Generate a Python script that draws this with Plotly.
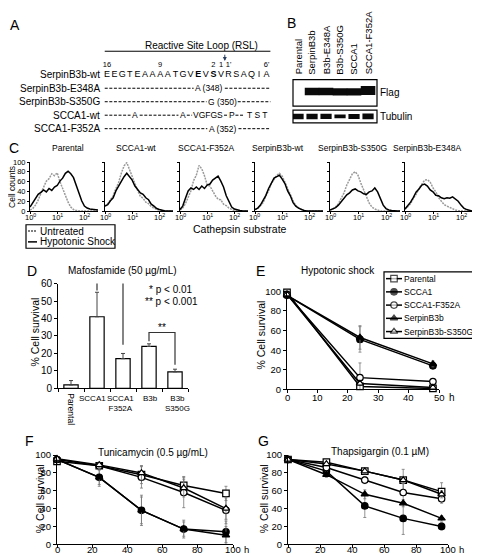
import plotly.graph_objects as go

W, H = 480, 554
FONT = "Liberation Sans, Arial, Helvetica, sans-serif"

# ---------------- data ----------------
# Panel A
RSL_RESIDUES = ["E", "E", "G", "T", "E", "A", "A", "A", "A", "T", "G",
                "V", "E", "V", "S", "V", "R", "S", "A", "Q", "I", "A"]
RSL_BOLD_RESIDUES = [12, 14]
RSL_NUMBER_LABELS = ["16", "9", "2", "1", "1'", "6'"]
RSL_NUMBER_RESIDUES = [0, 7, 14, 15, 16, 21]
RSL_CLEAVAGE = 15.5
VARIANT_LABELS = ["SerpinB3b-wt", "SerpinB3b-E348A", "SerpinB3b-S350G",
                  "SCCA1-wt", "SCCA1-F352A"]

# Panel B
LANES = ["Parental", "SerpinB3b", "B3b-E348A", "B3b-S350G", "SCCA1", "SCCA1-F352A"]
FLAG_SIGNAL = [0.0, 1.0, 1.0, 0.95, 0.95, 1.2]
TUBULIN_SIGNAL = [1.0, 1.0, 0.95, 0.7, 0.9, 1.05]

# Panel C (flow histograms, x = log10 fluorescence)
HIST_LOG10 = [0.0, 0.1, 0.2, 0.3, 0.4, 0.5, 0.6, 0.7, 0.8, 0.9, 1.0, 1.1, 1.2,
              1.3, 1.4, 1.5, 1.6, 1.7, 1.8, 1.9, 2.0, 2.1, 2.2, 2.3, 2.4, 2.5]
HIST_TICKS = [0, 1, 2]
HIST_TICK_TEXT = ["10<sup>0</sup>", "10<sup>1</sup>", "10<sup>2</sup>"]
HIST_TITLES = ["Parental", "SCCA1-wt", "SCCA1-F352A", "SerpinB3b-wt",
               "SerpinB3b-S350G", "SerpinB3b-E348A"]
HIST_UNTREATED = [
    [2, 5, 12, 22, 36, 47, 61, 66, 76, 72, 78, 60, 46, 29, 18, 8, 3, 1, 0, 0, 0, 0, 0, 0, 0, 0],
    [10, 15, 23, 31, 46, 58, 77, 92, 99, 84, 72, 53, 42, 30, 26, 18, 15, 9, 6, 3, 2, 1, 0, 0, 0, 0],
    [2, 6, 15, 29, 41, 62, 73, 93, 86, 72, 53, 51, 40, 31, 24, 23, 14, 11, 6, 3, 1, 0, 0, 0, 0, 0],
    [3, 5, 11, 17, 31, 41, 56, 64, 73, 77, 71, 59, 46, 31, 21, 11, 7, 3, 1, 0, 0, 0, 0, 0, 0, 0],
    [2, 4, 8, 15, 26, 37, 53, 64, 76, 80, 73, 57, 43, 27, 16, 8, 4, 2, 0, 0, 0, 0, 0, 0, 0, 0],
    [3, 8, 15, 26, 34, 46, 54, 63, 64, 59, 47, 39, 27, 21, 13, 10, 7, 4, 2, 1, 0, 0, 0, 0, 0, 0],
]
HIST_HYPOTONIC = [
    [8, 16, 26, 34, 38, 43, 39, 46, 42, 49, 52, 61, 67, 77, 81, 76, 68, 51, 35, 21, 10, 6, 4, 3, 2, 2],
    [10, 13, 21, 27, 41, 51, 63, 70, 77, 71, 63, 51, 43, 37, 34, 27, 23, 14, 10, 5, 3, 1, 0, 0, 0, 0],
    [3, 10, 26, 41, 47, 44, 49, 44, 51, 46, 53, 55, 63, 67, 71, 61, 49, 31, 18, 8, 4, 2, 1, 0, 0, 0],
    [3, 6, 12, 21, 32, 46, 57, 67, 70, 73, 65, 56, 41, 31, 17, 10, 6, 3, 1, 0, 0, 0, 0, 0, 0, 0],
    [2, 4, 7, 12, 19, 25, 33, 37, 43, 45, 41, 39, 35, 34, 39, 41, 47, 39, 25, 12, 5, 2, 1, 0, 0, 0],
    [4, 10, 18, 28, 39, 45, 53, 55, 51, 43, 39, 32, 31, 27, 25, 27, 26, 29, 25, 20, 12, 6, 3, 1, 0, 0],
]

# Panel D
D_CATEGORIES = ["Parental", "SCCA1", "SCCA1 F352A", "B3b", "B3b S350G"]
D_TICK_TEXT = ["Parental", "SCCA1", "SCCA1<br>F352A", "B3b", "B3b<br>S350G"]
D_SURVIVAL = [2.0, 41.0, 17.0, 24.0, 9.5]
D_ERROR = [2.5, 14.0, 3.0, 1.5, 1.5]

# Series shared by E, F, G
SERIES = ["Parental", "SCCA1", "SCCA1-F352A", "SerpinB3b", "SerpinB3b-S350G"]

E_HOURS = [0, 24, 48]
E_PARENTAL = [99, 3, 1]
E_SCCA1 = [96, 51, 24]
E_F352A = [97, 12, 8]
E_SERPINB3B = [96, 53, 26]
E_S350G = [97, 6, 2]
E_PARENTAL_ERR = [1, 1, 1]
E_SCCA1_ERR = [1, 13, 2]
E_F352A_ERR = [1, 15, 1]
E_SERPINB3B_ERR = [1, 12, 3]
E_S350G_ERR = [1, 2, 1]

F_HOURS = [0, 24, 48, 72, 96]
F_PARENTAL = [93, 88, 78, 66, 57]
F_SCCA1 = [95, 75, 38, 17, 14]
F_F352A = [95, 88, 75, 58, 38]
F_SERPINB3B = [95, 75, 38, 17, 10]
F_S350G = [96, 89, 80, 63, 40]
F_PARENTAL_ERR = [2, 3, 10, 10, 8]
F_SCCA1_ERR = [2, 8, 17, 10, 12]
F_F352A_ERR = [2, 3, 12, 17, 15]
F_SERPINB3B_ERR = [2, 10, 15, 8, 10]
F_S350G_ERR = [2, 3, 8, 10, 12]

G_HOURS = [0, 24, 48, 72, 96]
G_PARENTAL = [95, 92, 82, 72, 59]
G_SCCA1 = [95, 82, 43, 29, 20]
G_F352A = [95, 86, 72, 58, 51]
G_SERPINB3B = [95, 78, 56, 46, 29]
G_S350G = [95, 90, 82, 72, 56]
G_PARENTAL_ERR = [2, 2, 3, 12, 10]
G_SCCA1_ERR = [2, 3, 13, 18, 4]
G_F352A_ERR = [2, 3, 4, 10, 5]
G_SERPINB3B_ERR = [2, 3, 5, 4, 3]
G_S350G_ERR = [2, 2, 3, 4, 4]

TIME_TICKS_E = [0, 10, 20, 30, 40, 50]
TIME_TICKS_FG = [0, 20, 40, 60, 80, 100]
SURVIVAL_TICKS = [0, 20, 40, 60, 80, 100]

# ---------------- styles / helpers ----------------
SERIES_SYMBOL = ["square", "circle", "circle", "triangle-up", "triangle-up"]
SERIES_FILL = ["white", "black", "white", "black", "white"]


def fx(px):
    return px / W


def fy(py):
    return 1 - py / H


def dx(a, b):
    return [a / W, b / W]


def dy(top, bottom):
    return [1 - bottom / H, 1 - top / H]


def axn(n, k):
    return f"{k}axis" if n == 1 else f"{k}axis{n}"


def rf(n, k):
    return k if n == 1 else f"{k}{n}"


layout = dict(
    width=W, height=H, autosize=False,
    margin=dict(l=0, r=0, t=0, b=0),
    paper_bgcolor="white", plot_bgcolor="rgba(0,0,0,0)",
    showlegend=False,
    font=dict(family=FONT, size=10, color="black"),
)
annotations = []
shapes = []
fig = go.Figure()

AX = dict(showline=True, linecolor="black", linewidth=1, ticks="outside",
          ticklen=3, tickwidth=1, tickcolor="black", showgrid=False,
          zeroline=False, tickfont=dict(size=10), fixedrange=True)
HIDDEN = dict(visible=False, fixedrange=True, showgrid=False, zeroline=False)


def set_axes(n, xdom, ydom, xkw, ykw):
    layout[axn(n, "x")] = dict(domain=xdom, anchor=rf(n, "y"), **xkw)
    layout[axn(n, "y")] = dict(domain=ydom, anchor=rf(n, "x"), **ykw)


def text(px, py, s, size=10, xanchor="center", yanchor="middle", angle=0, **kw):
    annotations.append(dict(x=fx(px), y=fy(py), xref="paper", yref="paper",
                            text=s, showarrow=False, xanchor=xanchor,
                            yanchor=yanchor, textangle=angle, borderpad=0,
                            font=dict(size=size, family=FONT, color="black"), **kw))


def xtick_labels(n, vals, labels, py, size):
    """Tick labels of axis n placed as annotations just under the axis."""
    for v, lab in zip(vals, labels):
        annotations.append(dict(x=v, y=fy(py), xref=rf(n, "x"), yref="paper",
                                text=lab, showarrow=False, yanchor="middle", borderpad=0,
                                font=dict(size=size, family=FONT, color="black")))


# panel letters
for letter, px, py in [("A", 7, 11), ("B", 283, 9), ("C", 6, 137), ("D", 24, 262),
                       ("E", 252, 262), ("F", 21, 436), ("G", 255, 436)]:
    text(px, py, letter, size=14)

# ---------------- Panel A (axis 13) ----------------
IDX0, STEP = 99.0, 7.6
ROW0, ROWSTEP = 62.0, 13.75
set_axes(13, dx(80, 280), dy(20, 125),
         dict(HIDDEN, range=[(80 - IDX0) / STEP, (280 - IDX0) / STEP]),
         dict(HIDDEN, range=[(125 - ROW0) / ROWSTEP, (20 - ROW0) / ROWSTEP]))


def row_y(py):
    return (py - ROW0) / ROWSTEP


seq_text = [f"<b>{r}</b>" if i in RSL_BOLD_RESIDUES else r for i, r in enumerate(RSL_RESIDUES)]
fig.add_trace(go.Scatter(x=list(range(len(RSL_RESIDUES))), y=[0] * len(RSL_RESIDUES),
                         mode="text", text=seq_text, textfont=dict(size=9, family=FONT),
                         xaxis="x13", yaxis="y13", cliponaxis=False, hoverinfo="skip"))
fig.add_trace(go.Scatter(x=RSL_NUMBER_RESIDUES, y=[row_y(52)] * len(RSL_NUMBER_RESIDUES),
                         mode="text", text=RSL_NUMBER_LABELS, textfont=dict(size=7.5, family=FONT),
                         xaxis="x13", yaxis="y13", cliponaxis=False, hoverinfo="skip"))
shapes.append(dict(type="line", xref="x13", yref="y13", x0=-0.3, x1=21.5,
                   y0=row_y(38), y1=row_y(38), line=dict(color="black", width=1)))
annotations.append(dict(x=(21.5 - 0.3) / 2 + 1.8, y=row_y(32), xref="x13", yref="y13",
                        text="Reactive Site Loop (RSL)", showarrow=False,
                        font=dict(size=10, family=FONT)))
annotations.append(dict(x=RSL_CLEAVAGE, y=row_y(48), xref="x13", yref="y13",
                        ax=RSL_CLEAVAGE, ay=row_y(40), axref="x13", ayref="y13",
                        showarrow=True, arrowhead=2, arrowsize=0.8, arrowwidth=1,
                        text=""))
for r, lab in enumerate(VARIANT_LABELS):
    annotations.append(dict(x=(94 - IDX0) / STEP, y=r, xref="x13", yref="y13", text=lab,
                            showarrow=False, xanchor="right",
                            font=dict(size=10, family=FONT)))

VARIANT_DASHES = {
    1: [(-0.3, 11.4), (15.5, 21.5)],
    2: [(-0.3, 13.1), (17.2, 21.5)],
    3: [(-0.3, 3.1), (4.3, 9.4), (10.5, 11.2), (15.4, 15.9), (16.9, 18.1)],
    4: [(-0.3, 13.2), (17.3, 21.5)],
}
VARIANT_TEXT = {
    1: [("A (348)", 13.4)],
    2: [("G (350)", 15.2)],
    3: [("A", 3.7), ("A", 9.95), ("VGFGS", 13.3), ("P", 16.4), ("T S T", 19.8)],
    4: [("A (352)", 15.3)],
}
for r, segs in VARIANT_DASHES.items():
    for a, b in segs:
        fig.add_trace(go.Scatter(x=[a, b], y=[r, r], mode="lines",
                                 line=dict(color="black", width=1, dash="3px,1.6px"),
                                 xaxis="x13", yaxis="y13", hoverinfo="skip"))
for r, items in VARIANT_TEXT.items():
    for s, xpos in items:
        annotations.append(dict(x=xpos, y=r, xref="x13", yref="y13", text=s,
                                showarrow=False, font=dict(size=8.5, family=FONT)))

# ---------------- Panel B (axes 1, 2) ----------------
BX = [-0.36, 5.64]
set_axes(1, dx(285, 369), dy(67, 94),
         dict(HIDDEN, range=BX),
         dict(HIDDEN, range=[0, 1]))
set_axes(2, dx(285, 369), dy(98, 111),
         dict(HIDDEN, range=BX),
         dict(HIDDEN, range=[0, 1]))
for n, top, bot in [(1, 67, 94), (2, 98, 111)]:
    shapes.append(dict(type="rect", xref="paper", yref="paper",
                       x0=fx(285), x1=fx(369), y0=fy(bot), y1=fy(top),
                       line=dict(color="black", width=1.2)))
for i, s in enumerate(FLAG_SIGNAL):
    if s > 0:
        fig.add_trace(go.Scatter(x=[i - 0.52, i + 0.52], y=[0.55 + 0.2 * (s - 1)] * 2,
                                 mode="lines", line=dict(color="#0a0a0a", width=7.5 * s),
                                 xaxis="x", yaxis="y", hoverinfo="skip"))
for i, s in enumerate(TUBULIN_SIGNAL):
    fig.add_trace(go.Scatter(x=[i - 0.4, i + 0.4], y=[0.5, 0.5],
                             mode="lines", line=dict(color="#0a0a0a", width=5.5 * s),
                             xaxis="x2", yaxis="y2", hoverinfo="skip"))
for i, lab in enumerate(LANES):
    annotations.append(dict(x=i, y=fy(64), xref="x", yref="paper", text=lab,
                            showarrow=False, textangle=-90, yanchor="bottom",
                            font=dict(size=9.5, family=FONT)))
text(371, 80, "Flag", size=10, xanchor="left")
text(371, 105, "Tubulin", size=10, xanchor="left")

# ---------------- Panel C (axes 3-8) ----------------
C_XDOMS = [(22, 90), (97, 165), (172, 240), (247, 315), (322, 392), (397, 467)]
C_TITLE_X = [60, 128, 198, 270, 344, 419]
hist_x = [10 ** v for v in HIST_LOG10]
for k in range(6):
    n = 3 + k
    set_axes(n, dx(*C_XDOMS[k]), dy(151, 201),
             dict(AX, type="log", range=[0, 2.5], tickvals=[10 ** t for t in HIST_TICKS],
                  showticklabels=False, ticklen=2),
             dict(AX, range=[0, 100], tickvals=[0, 20, 40, 60, 80, 100],
                  showticklabels=(k == 0), tickfont=dict(size=7.5), ticklen=2))
    xtick_labels(n, HIST_TICKS, HIST_TICK_TEXT, 207, 7.5)
    fig.add_trace(go.Scatter(x=hist_x, y=HIST_UNTREATED[k], mode="lines",
                             line=dict(color="#9a9a9a", width=1.5, dash="2px,1px"),
                             xaxis=rf(n, "x"), yaxis=rf(n, "y"), hoverinfo="skip"))
    fig.add_trace(go.Scatter(x=hist_x, y=HIST_HYPOTONIC[k], mode="lines",
                             line=dict(color="black", width=1.5),
                             xaxis=rf(n, "x"), yaxis=rf(n, "y"), hoverinfo="skip"))
    text(C_TITLE_X[k], 137, HIST_TITLES[k], size=8.5)
text(4.5, 177, "Cell counts", size=8.5, angle=-90)
text(232, 219, "Cathepsin substrate", size=10.5)

# ---------------- overlay (axis 14) for legends ----------------
set_axes(14, [0, 1], [0, 1], dict(HIDDEN, range=[0, W]), dict(HIDDEN, range=[H, 0]))

shapes.append(dict(type="rect", xref="paper", yref="paper", x0=fx(18), x1=fx(107),
                   y0=fy(239), y1=fy(215), line=dict(color="black", width=1.2)))
fig.add_trace(go.Scatter(x=[20, 29], y=[221.5, 221.5], mode="lines",
                         line=dict(color="#555", width=1.5, dash="2px,1px"),
                         xaxis="x14", yaxis="y14", hoverinfo="skip"))
fig.add_trace(go.Scatter(x=[20, 29], y=[232.5, 232.5], mode="lines",
                         line=dict(color="black", width=1.5),
                         xaxis="x14", yaxis="y14", hoverinfo="skip"))
text(31, 221.5, "Untreated", size=10, xanchor="left")
text(31, 232.5, "Hypotonic Shock", size=10, xanchor="left")

# ---------------- Panel D (axis 9) ----------------
set_axes(9, dx(50, 180), dy(275, 382),
         dict(AX, type="category", categoryorder="array", categoryarray=D_CATEGORIES,
              tickvals=D_CATEGORIES, showticklabels=False, tickson="boundaries",
              range=[-0.5, 4.5]),
         dict(AX, range=[0, 60], tickvals=[0, 10, 20, 30, 40, 50, 60]))
fig.add_trace(go.Bar(x=D_CATEGORIES, y=D_SURVIVAL, width=0.55,
                     marker=dict(color="white", line=dict(color="black", width=1.2)),
                     error_y=dict(type="data", symmetric=False, array=D_ERROR,
                                  arrayminus=[0] * len(D_ERROR), color="#444",
                                  thickness=1, width=2),
                     xaxis="x9", yaxis="y9", hoverinfo="skip"))
D_BRACKETS = [(1, 2, 56, 62, 25, "*"), (3, 4, 27, 32, 13.5, "**")]
for a, b, ya, ytop, yb, star in D_BRACKETS:
    fig.add_trace(go.Scatter(x=[D_CATEGORIES[a], D_CATEGORIES[a], D_CATEGORIES[b], D_CATEGORIES[b]],
                             y=[ya, ytop, ytop, yb], mode="lines",
                             line=dict(color="#333", width=1.2),
                             xaxis="x9", yaxis="y9", cliponaxis=False, hoverinfo="skip"))
    annotations.append(dict(x=(a + b) / 2, y=ytop, xref="x9", yref="y9", text=star,
                            showarrow=False, yanchor="bottom", yshift=-3,
                            font=dict(size=10, family=FONT)))
# category labels under D
D_LABEL_SHIFT = [0, -0.19, -0.08, 0.04, 0.08]
for i, lab in enumerate(D_TICK_TEXT):
    if i == 0:
        annotations.append(dict(x=i, y=fy(385), xref="x9", yref="paper", text=lab,
                                showarrow=False, textangle=90, yanchor="top",
                                font=dict(size=8.5, family=FONT)))
    else:
        annotations.append(dict(x=i + D_LABEL_SHIFT[i], y=fy(386), xref="x9", yref="paper",
                                text=lab, showarrow=False, yanchor="top",
                                font=dict(size=8, family=FONT)))
text(114, 262, "Mafosfamide (50 µg/mL)", size=10)
text(163, 281, "* p < 0.01", size=10)
text(163, 293.5, "** p < 0.001", size=10)
text(27, 325, "% Cell survival", size=10.5, angle=-90)

# ---------------- Panels E, F, G ----------------


def survival_panel(n, hours, series, errs, xdom, ydom, xmax, xtick, label_y):
    set_axes(n, dx(*xdom), dy(*ydom),
             dict(AX, range=[0, xmax], tickvals=xtick, showticklabels=False, ticklen=2.5),
             dict(AX, range=[0, 100], tickvals=SURVIVAL_TICKS, tickfont=dict(size=9.5)))
    xtick_labels(n, xtick, [str(t) for t in xtick], label_y, 9.5)
    for k, (vals, err) in enumerate(zip(series, errs)):
        fig.add_trace(go.Scatter(
            x=hours, y=vals, mode="lines+markers",
            line=dict(color="black", width=1.5),
            marker=dict(symbol=SERIES_SYMBOL[k], size=6.5, color=SERIES_FILL[k],
                        line=dict(color="black", width=1.2)),
            error_y=dict(type="data", array=err, color="#777", thickness=0.8, width=1.5),
            xaxis=rf(n, "x"), yaxis=rf(n, "y"), cliponaxis=False, hoverinfo="skip",
            name=SERIES[k]))


survival_panel(10, E_HOURS, [E_PARENTAL, E_SCCA1, E_F352A, E_SERPINB3B, E_S350G],
               [E_PARENTAL_ERR, E_SCCA1_ERR, E_F352A_ERR, E_SERPINB3B_ERR, E_S350G_ERR],
               (279, 431), (283, 383), 50, TIME_TICKS_E, 391)
text(330, 262, "Hypotonic shock", size=10)
text(444, 391, "h", size=10)
text(253, 328, "% Cell survival", size=10.5, angle=-90)

survival_panel(11, F_HOURS, [F_PARENTAL, F_SCCA1, F_F352A, F_SERPINB3B, F_S350G],
               [F_PARENTAL_ERR, F_SCCA1_ERR, F_F352A_ERR, F_SERPINB3B_ERR, F_S350G_ERR],
               (49, 225), (450, 541), 100, TIME_TICKS_FG, 546.5)
text(145, 447, "Tunicamycin (0.5 µg/mL)", size=10)
text(238, 546.5, "h", size=9.5)
text(32, 495, "% Cell survival", size=10.5, angle=-90)

survival_panel(12, G_HOURS, [G_PARENTAL, G_SCCA1, G_F352A, G_SERPINB3B, G_S350G],
               [G_PARENTAL_ERR, G_SCCA1_ERR, G_F352A_ERR, G_SERPINB3B_ERR, G_S350G_ERR],
               (280, 440), (450, 541), 100, TIME_TICKS_FG, 546.5)
text(372, 446, "Thapsigargin (0.1 µM)", size=10)
text(453, 546.5, "h", size=9.5)
text(256, 495, "% Cell survival", size=10.5, angle=-90)

# legend for E (custom, compact)
LEG_Y0, LEG_DY = 270, 13.5
shapes.append(dict(type="rect", xref="paper", yref="paper", x0=fx(376), x1=fx(479),
                   y0=fy(331), y1=fy(263), line=dict(color="black", width=1.2)))
for k, name in enumerate(SERIES):
    yk = LEG_Y0 + LEG_DY * k
    fig.add_trace(go.Scatter(x=[378, 386, 394], y=[yk, yk, yk], mode="lines+markers",
                             line=dict(color="black", width=1.5),
                             marker=dict(symbol=SERIES_SYMBOL[k], size=[0, 6.5, 0],
                                         color=SERIES_FILL[k],
                                         line=dict(color="black", width=1.2)),
                             xaxis="x14", yaxis="y14", cliponaxis=False, hoverinfo="skip"))
    text(395, yk, name, size=8.5, xanchor="left")

layout["annotations"] = annotations
layout["shapes"] = shapes
fig.update_layout(**layout)
fig.write_html("out.html")
